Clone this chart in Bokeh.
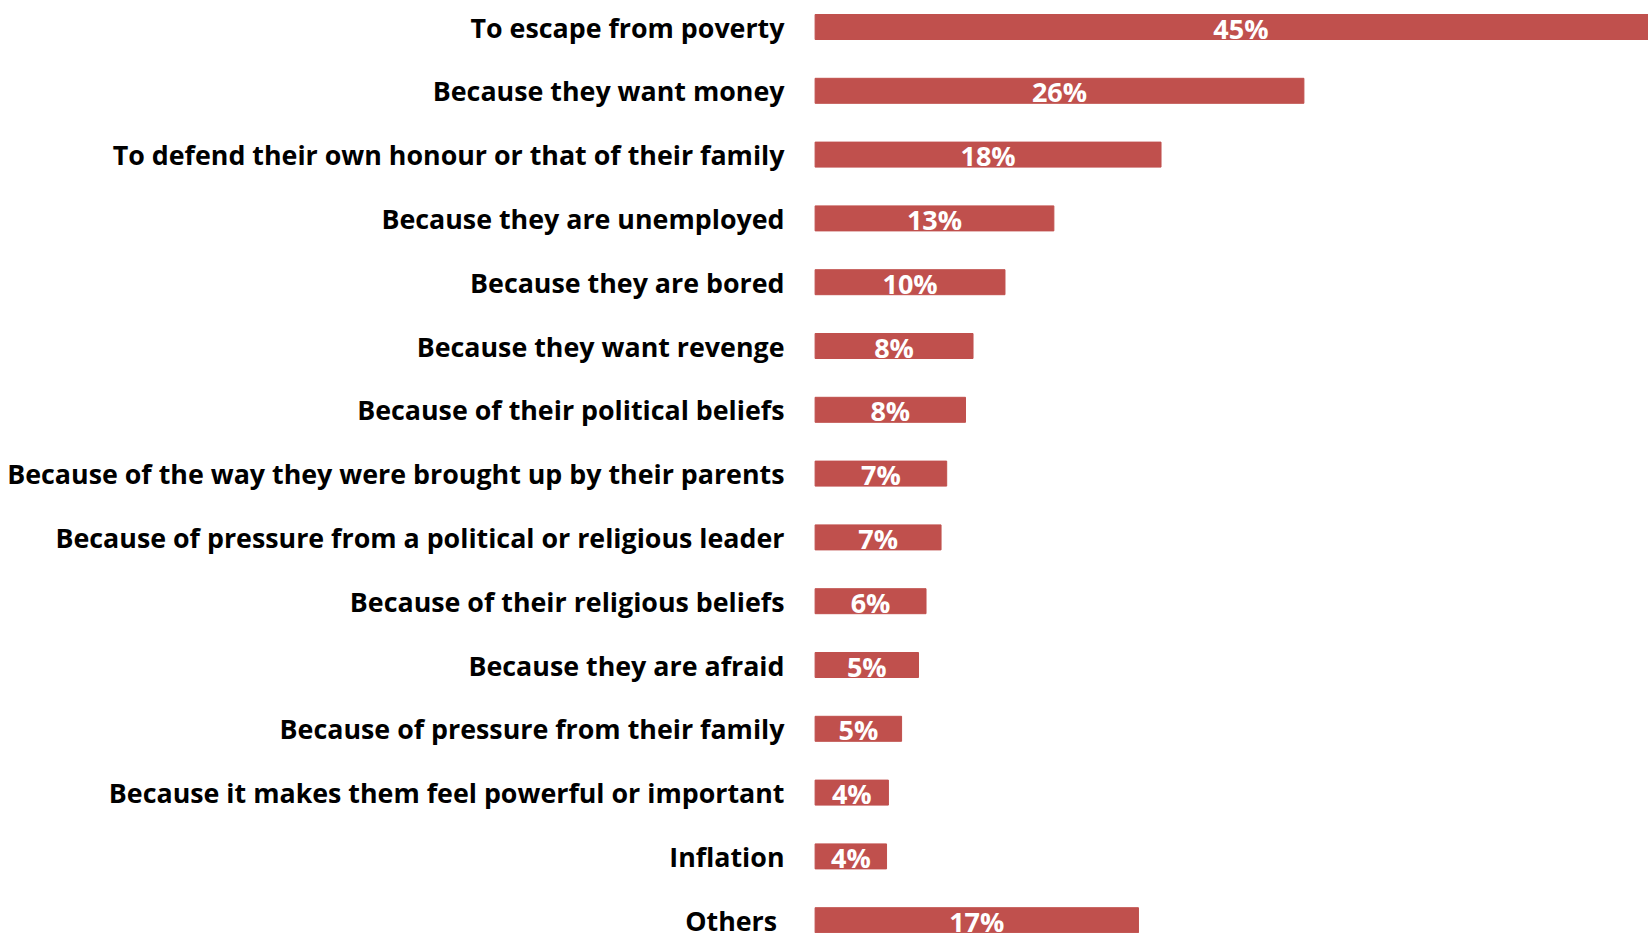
from bokeh.plotting import figure
from bokeh.models import ColumnDataSource, Range1d
from bokeh.core.properties import value
from bokeh.embed import file_html
from bokeh.resources import INLINE

categories = [
    "To escape from poverty",
    "Because they want money",
    "To defend their own honour or that of their family",
    "Because they are unemployed",
    "Because they are bored",
    "Because they want revenge",
    "Because of their political beliefs",
    "Because of the way they were brought up by their parents",
    "Because of pressure from a political or religious leader",
    "Because of their religious beliefs",
    "Because they are afraid",
    "Because of pressure from their family",
    "Because it makes them feel powerful or important",
    "Inflation",
    "Others",
]
values = [45.3, 26.0, 18.4, 12.7, 10.1, 8.4, 8.0, 7.0, 6.7, 5.9, 5.5, 4.6, 3.9, 3.8, 17.2]
value_labels = ["45%", "26%", "18%", "13%", "10%", "8%", "8%", "7%", "7%", "6%", "5%", "5%", "4%", "4%", "17%"]

W, H = 1648, 933
px_per_unit = 18.8
x0_px = 814.6
row_px = 63.8
first_row_px = 26.5

idx = list(range(len(categories)))
gap_px = [-30.6] * len(idx)
gap_px[-1] = -38.0  # "Others" label sits slightly further left in the original
src = ColumnDataSource(dict(
    y=idx,
    val=values,
    mid=[v / 2 for v in values],
    cat=categories,
    lab=value_labels,
    lx=[g / px_per_unit for g in gap_px],
))

x_range = Range1d(-x0_px / px_per_unit, (W - x0_px) / px_per_unit)
y_range = Range1d((H - first_row_px) / row_px, -first_row_px / row_px)

p = figure(width=W, height=H, x_range=x_range, y_range=y_range,
           output_backend="svg", toolbar_location=None,
           min_border=0, outline_line_color=None)
p.axis.visible = False
p.grid.visible = False

p.hbar(y="y", left=0, right="val", height=25.0 / row_px, source=src,
       fill_color="#C0504D", line_color="#C0504D")

p.text(x="lx", y="y", text="cat", source=src, text_align="right",
       text_baseline="middle", text_font=value("Open Sans"), text_font_style="bold",
       text_font_size="26.8px", text_color="#000000")

p.text(x="mid", y="y", text="lab", source=src, text_align="center",
       text_baseline="middle", text_font=value("Open Sans"), text_font_style="bold",
       text_font_size="27px", text_color="#FFFFFF", y_offset=1)

open("out.html", "w").write(file_html(p, INLINE))
